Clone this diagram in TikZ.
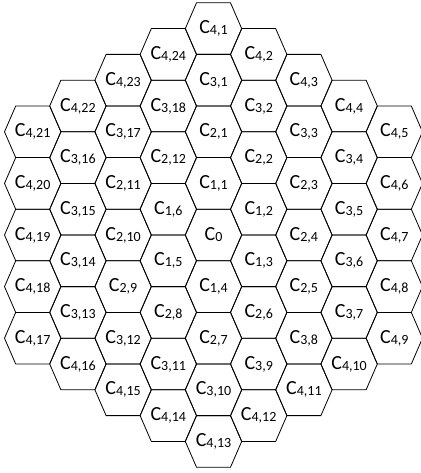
\documentclass[tikz,border=0pt]{standalone}
\usepackage{fontspec}
\setmainfont{Carlito}
\tikzset{
  hexline/.style={draw=black, line width=0.8pt, line join=miter},
  cellname/.style={font=\fontsize{20}{22}\selectfont, inner sep=0pt},
}
\newcommand{\cname}[1]{C\raisebox{-1pt}{\fontsize{14}{16}\selectfont #1}}
% half width, half top edge, half height (px)
\def\ha{28.2}
\def\hb{17}
\def\hc{25.8}

\begin{document}
\begin{tikzpicture}[x=1pt, y=-1pt]
  \useasboundingbox (0,0) rectangle (420,473);
  % centre cell
  \node[cellname] (c0) at (213.5,235) {\cname{0}};
  \draw[hexline] (c0.center) +(-\ha,0) -- +(-\hb,-\hc) -- +(\hb,-\hc) -- +(\ha,0) -- +(\hb,\hc) -- +(-\hb,\hc) -- cycle;
  % rings, clockwise from the top
  \foreach \n in {1,...,4}{
    \pgfmathtruncatemacro{\m}{\n-1}
    \foreach \s/\cq/\cr/\dq/\dr in {0/0/-1/1/0, 1/1/-1/0/1, 2/1/0/-1/1, 3/0/1/-1/0, 4/-1/1/0/-1, 5/-1/0/1/-1}{
      \foreach \t in {0,...,\m}{
        \pgfmathtruncatemacro{\i}{\s*\n+\t+1}
        \pgfmathsetmacro{\q}{\cq*\n+\t*\dq}
        \pgfmathsetmacro{\r}{\cr*\n+\t*\dr}
        \node[cellname] (c\n-\i) at ({213.5+45.2*\q},{235+51.6*(\r+\q/2)}) {\cname{\n,\i}};
        \draw[hexline] (c\n-\i.center) +(-\ha,0) -- +(-\hb,-\hc) -- +(\hb,-\hc) -- +(\ha,0) -- +(\hb,\hc) -- +(-\hb,\hc) -- cycle;
      }
    }
  }
\end{tikzpicture}
\end{document}
